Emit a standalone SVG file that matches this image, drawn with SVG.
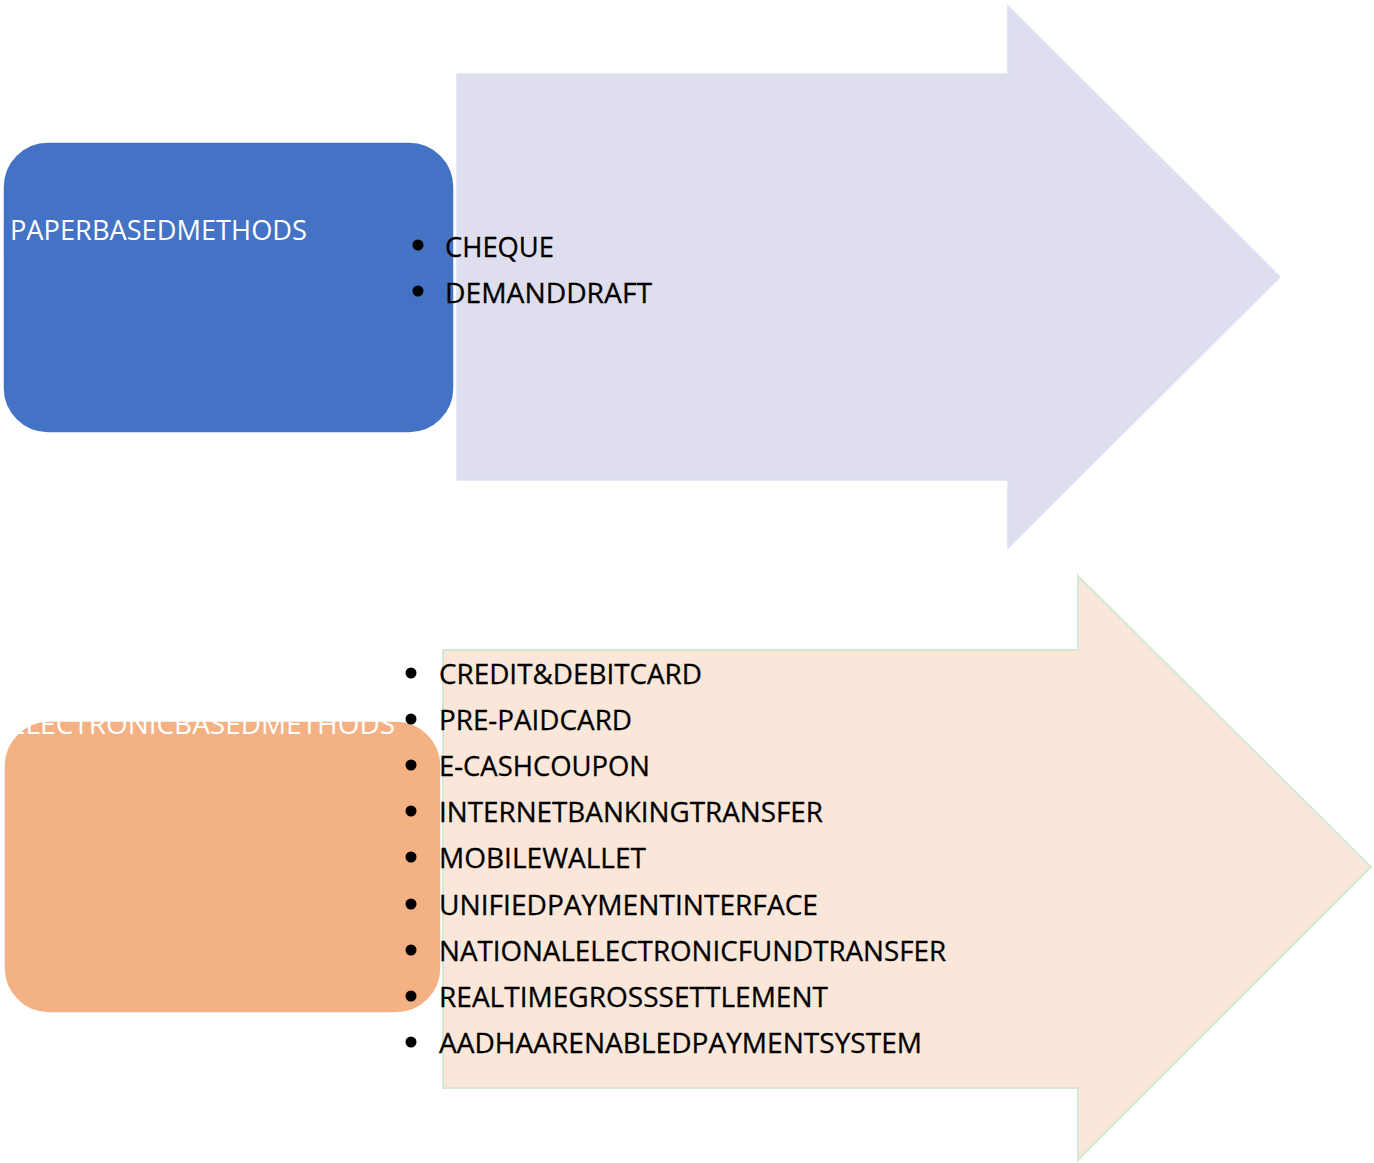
<svg xmlns="http://www.w3.org/2000/svg" width="1374" height="1163" viewBox="0 0 1374 1163">
  <style>
    .label { font-family: "Open Sans", "Liberation Sans", sans-serif; font-size: 27px; }
    .head { fill: #FFFFFF; }
    .item { fill: #000000; stroke: #000000; stroke-width: 0.3; }
    .dot { fill: #000000; }
    .arrow-paper { fill: #DEDEEE; stroke: #DAE3F3; stroke-width: 1.5; }
    .arrow-elec { fill: #FAE7DA; stroke: #D5E8D4; stroke-width: 2; }
    .box-paper { fill: #4472C4; stroke: #FFFFFF; stroke-width: 1.5; }
    .box-elec { fill: #F4B183; stroke: #FFFFFF; stroke-width: 1.5; }
  </style>
  <rect width="1374" height="1163" fill="#FFFFFF"/>

  <!-- paper based: block arrow with its list -->
  <g id="paper-arrow">
    <polygon class="arrow-paper" points="457,74 1008,74 1008,6 1280,277 1008,548 1008,480 457,480"/>
  </g>
  <g id="paper-box">
    <rect class="box-paper" x="3" y="142" width="451" height="291" rx="45" ry="45"/>
    <text class="label head" x="10" y="240" textLength="297" lengthAdjust="spacingAndGlyphs">PAPERBASEDMETHODS</text>
  </g>
  <g id="paper-list">
    <circle class="dot" cx="418" cy="245" r="5.5"/>
    <text class="label item" x="445" y="257" textLength="109" lengthAdjust="spacingAndGlyphs">CHEQUE</text>
    <circle class="dot" cx="418" cy="291" r="5.5"/>
    <text class="label item" x="445" y="303" textLength="207" lengthAdjust="spacingAndGlyphs">DEMANDDRAFT</text>
  </g>

  <!-- electronic based: block arrow with its list -->
  <g id="electronic-arrow">
    <polygon class="arrow-elec" points="443,650 1078,650 1078,576 1371,867 1078,1160 1078,1088 443,1088"/>
  </g>
  <g id="electronic-box">
    <rect class="box-elec" x="4" y="721" width="437" height="292" rx="45" ry="45"/>
    <text class="label head" x="10" y="734" textLength="385" lengthAdjust="spacingAndGlyphs">ELECTRONICBASEDMETHODS</text>
  </g>
  <g id="electronic-list">
    <circle class="dot" cx="411" cy="673" r="5.5"/>
    <text class="label item" x="439" y="684" textLength="263" lengthAdjust="spacingAndGlyphs">CREDIT&amp;DEBITCARD</text>
    <circle class="dot" cx="411" cy="719" r="5.5"/>
    <text class="label item" x="439" y="730" textLength="193" lengthAdjust="spacingAndGlyphs">PRE-PAIDCARD</text>
    <circle class="dot" cx="411" cy="765" r="5.5"/>
    <text class="label item" x="439" y="776" textLength="211" lengthAdjust="spacingAndGlyphs">E-CASHCOUPON</text>
    <circle class="dot" cx="411" cy="811" r="5.5"/>
    <text class="label item" x="439" y="822" textLength="384" lengthAdjust="spacingAndGlyphs">INTERNETBANKINGTRANSFER</text>
    <circle class="dot" cx="411" cy="857" r="5.5"/>
    <text class="label item" x="439" y="868" textLength="207" lengthAdjust="spacingAndGlyphs">MOBILEWALLET</text>
    <circle class="dot" cx="411" cy="904" r="5.5"/>
    <text class="label item" x="439" y="915" textLength="379" lengthAdjust="spacingAndGlyphs">UNIFIEDPAYMENTINTERFACE</text>
    <circle class="dot" cx="411" cy="950" r="5.5"/>
    <text class="label item" x="439" y="961" textLength="507" lengthAdjust="spacingAndGlyphs">NATIONALELECTRONICFUNDTRANSFER</text>
    <circle class="dot" cx="411" cy="996" r="5.5"/>
    <text class="label item" x="439" y="1007" textLength="389" lengthAdjust="spacingAndGlyphs">REALTIMEGROSSSETTLEMENT</text>
    <circle class="dot" cx="411" cy="1042" r="5.5"/>
    <text class="label item" x="439" y="1053" textLength="483" lengthAdjust="spacingAndGlyphs">AADHAARENABLEDPAYMENTSYSTEM</text>
  </g>
</svg>
